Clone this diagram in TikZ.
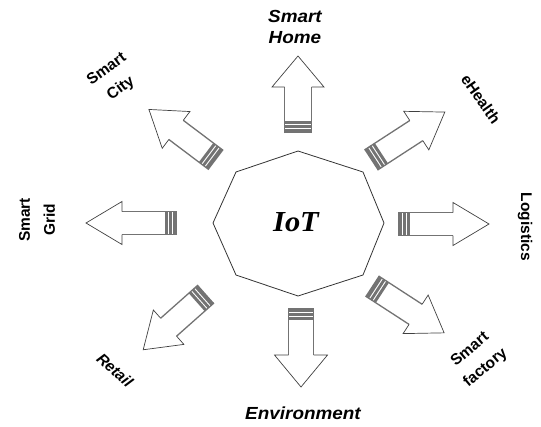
\documentclass[tikz,border=0pt]{standalone}
\usepackage{fontspec}
\setmainfont{Liberation Serif}
\setsansfont{Liberation Sans}
\newcommand\iotarrow[7]{% x y angle L sw hl hw
  \begin{scope}[shift={(#1,#2)},rotate=#3]
    \fill[stripe] (0,{-#5/2}) rectangle (4.2,{#5/2});
    \fill[stripe] (5.4,{-#5/2}) rectangle (8.2,{#5/2});
    \fill[stripe] (9.4,{-#5/2}) rectangle (12.4,{#5/2});
    \draw[shaftline] (0,{-#5/2}) -- ({#4-#6},{-#5/2});
    \draw[shaftline] (0,{#5/2}) -- ({#4-#6},{#5/2});
    \draw[headline] ({#4-#6},{-#5/2}) -- ({#4-#6},{-#7/2}) -- (#4,0)
      -- ({#4-#6},{#7/2}) -- ({#4-#6},{#5/2});
  \end{scope}}
\tikzset{
  stripe/.style={fill=black!55},
  shaftline/.style={draw=black!55,line width=1.3pt},
  headline/.style={draw=black!75,line width=0.7pt,line join=miter},
  octline/.style={draw=black!80,line width=0.8pt},
  lab/.style={font=\sffamily\bfseries\itshape\fontsize{17.5}{21}\selectfont,inner sep=0pt,align=center},
  labb/.style={font=\sffamily\bfseries\fontsize{15.5}{25}\selectfont,inner sep=0pt,align=center},
  labbi/.style={font=\sffamily\bfseries\itshape\fontsize{15.5}{22}\selectfont,inner sep=0pt,align=center},
  labn/.style={font=\sffamily\bfseries\fontsize{15.5}{24}\selectfont,inner sep=0pt,align=center},
}
\begin{document}
\begin{tikzpicture}[x=1pt,y=1pt]
\useasboundingbox (0,0) rectangle (541,-426);
% central octagon
\draw[octline] (298,-151) -- (363,-172) -- (384,-223) -- (363,-275) -- (298,-296)
  -- (236,-275) -- (213,-223) -- (236,-172) -- cycle;
\node[font=\bfseries\itshape\fontsize{29}{34}\selectfont,inner sep=0pt,xscale=1.05,transform shape] (iot) at (296,-222) {IoT};
% arrows
\iotarrow{298}{-133}{90}{77}{27}{31}{52}
\iotarrow{301}{-308}{-90}{79}{25}{32}{53}
\iotarrow{398}{-224}{0}{91}{23}{36}{43}
\iotarrow{177}{-223}{180}{91}{23}{36}{43}
\iotarrow{371}{-160}{33}{88}{24}{34}{46}
\iotarrow{372}{-286}{-33}{86}{24}{34}{46}
\iotarrow{206}{-294}{221.6}{84}{24}{34}{46}
\iotarrow{216}{-160}{143}{84}{24}{34}{46}
% labels
\node[lab,xscale=1.08,transform shape] (home) at (295,-26.5) {Smart\\Home};
\node[lab,xscale=1.08,transform shape] (env) at (303,-413) {Environment};
\node[labb,rotate=-90] (logistics) at (525,-227) {Logistics};
\node[labb,rotate=90] (grid) at (37,-220) {Smart\\Grid};
\node[labn,rotate=-55] (ehealth) at (481,-99) {eHealth};
\node[labbi,rotate=-42] (retail) at (115,-370) {Retail};
\node[labn,rotate=36] (city) at (114,-79) {Smart\\City};
\node[labn,rotate=40] (factory) at (478,-359) {Smart\\factory};
\end{tikzpicture}
\end{document}
